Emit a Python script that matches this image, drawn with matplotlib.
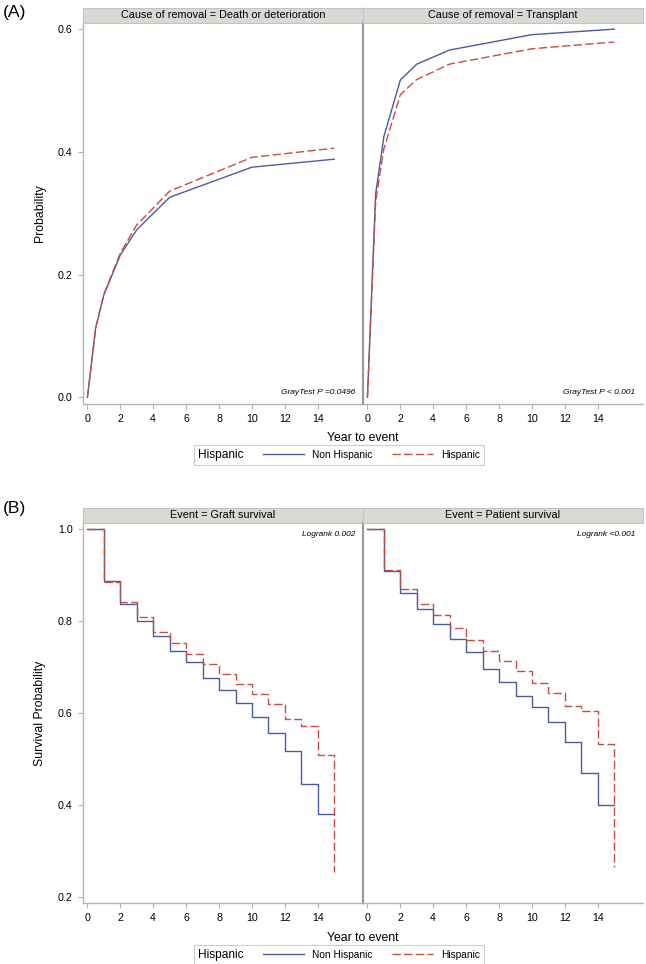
import matplotlib.pyplot as plt
from matplotlib.lines import Line2D
from matplotlib.offsetbox import HPacker

plt.rcParams['font.family'] = ['Liberation Sans', 'DejaVu Sans']

# (A) cumulative incidence
ci_time = [0, 0.5, 1, 2, 3, 5, 10, 15]
death_non_hisp = [0, 0.113, 0.167, 0.232, 0.273, 0.326, 0.375, 0.388]
death_hisp = [0, 0.113, 0.168, 0.235, 0.281, 0.336, 0.391, 0.406]
tx_non_hisp = [0, 0.332, 0.425, 0.517, 0.543, 0.566, 0.591, 0.600]
tx_hisp = [0, 0.319, 0.405, 0.493, 0.518, 0.543, 0.568, 0.579]

# (B) Kaplan-Meier, yearly steps
km_time = list(range(16))
graft_non_hisp = [1.0, 0.886, 0.836, 0.799, 0.767, 0.735, 0.710, 0.677, 0.649,
                  0.622, 0.591, 0.557, 0.517, 0.445, 0.380, 0.380]
graft_hisp = [1.0, 0.884, 0.841, 0.808, 0.777, 0.753, 0.729, 0.706, 0.685,
              0.664, 0.641, 0.620, 0.588, 0.571, 0.509, 0.255]
patient_non_hisp = [1.0, 0.909, 0.860, 0.825, 0.793, 0.760, 0.732, 0.696, 0.667,
                    0.638, 0.612, 0.580, 0.536, 0.469, 0.400, 0.400]
patient_hisp = [1.0, 0.910, 0.870, 0.837, 0.812, 0.785, 0.759, 0.735, 0.714,
                0.691, 0.666, 0.643, 0.615, 0.604, 0.532, 0.266]

titles_a = ['Cause of removal = Death or deterioration', 'Cause of removal = Transplant']
titles_b = ['Event = Graft survival', 'Event = Patient survival']
notes_a = ['GrayTest P =0.0496', 'GrayTest P < 0.001']
notes_b = ['Logrank 0.002', 'Logrank <0.001']
group_labels = ['Non Hispanic', 'Hispanic']

blue = '#4a5aa8'
red = '#cc4b40'
grey = '#b4b4b4'
dash = (6, 2.4)

W, H = 646, 964
fig = plt.figure(figsize=(W / 100, H / 100), dpi=100)


def box(x0, y0, x1, y1):
    return [x0 / W, 1 - y1 / H, (x1 - x0) / W, (y1 - y0) / H]


def make_panel(x0, x1, y0, y1, title, ylim, yticks, first):
    ax = fig.add_axes(box(x0, y0, x1, y1))
    strip = fig.add_axes(box(x0, y0 - 15, x1, y0))
    strip.set_facecolor('#d9dad4')
    strip.set_xticks([])
    strip.set_yticks([])
    for s in strip.spines.values():
        s.set_color('#c4c4c4')
        s.set_linewidth(0.8)
    strip.text(0.5, 0.5, title, ha='center', va='center', fontsize=7.8,
               transform=strip.transAxes)
    ax.set_xlim(-0.27, 16.75)
    ax.set_ylim(*ylim)
    ax.set_xticks(range(0, 15, 2))
    ax.set_yticks(yticks)
    ax.set_yticklabels(['%.1f' % v for v in yticks])
    for s in ['top', 'right']:
        ax.spines[s].set_visible(False)
    ax.spines['bottom'].set_color(grey)
    ax.spines['bottom'].set_linewidth(1.0)
    if first:
        ax.spines['left'].set_color(grey)
        ax.spines['left'].set_linewidth(1.0)
    else:
        ax.spines['left'].set_color('#9a9a9a')
        ax.spines['left'].set_linewidth(1.6)
        ax.tick_params(axis='y', left=False, labelleft=False)
    ax.tick_params(labelsize=7.7, color=grey, length=3.5, width=0.8, pad=4)
    return ax


def add_legend(ycenter):
    handles = [Line2D([], [], color=blue, lw=1.0),
               Line2D([], [], color=red, lw=1.0, dashes=dash)]
    leg = fig.legend(handles, group_labels, title='Hispanic', ncol=2,
                     loc='center', bbox_to_anchor=(339 / W, 1 - ycenter / H),
                     fontsize=7.3, title_fontsize=8.6, frameon=True,
                     fancybox=False, edgecolor='#cccccc', framealpha=1,
                     borderpad=0.4, handlelength=4.0, handletextpad=0.8,
                     columnspacing=2.0)
    leg.get_frame().set_linewidth(0.8)
    # put the title on the same row as the entries
    lb = leg._legend_box
    title, entries = lb.get_children()
    lb._children = [HPacker(pad=0, sep=14, align='center', children=[title, entries])]
    return leg


# ---- (A)
fig.text(3 / W, 1 - 13 / H, '(A)', fontsize=12.6, va='center')
series_a = [(death_non_hisp, death_hisp), (tx_non_hisp, tx_hisp)]
for i, (x0, x1) in enumerate([(83, 363), (363, 643)]):
    ax = make_panel(x0, x1, 23, 404, titles_a[i], (-0.011, 0.61),
                    [0.0, 0.2, 0.4, 0.6], i == 0)
    nh, h = series_a[i]
    ax.plot(ci_time, nh, color=blue, lw=1.0)
    ax.plot(ci_time, h, color=red, lw=1.0, dashes=dash)
    ax.text(0.972, 0.029, notes_a[i], transform=ax.transAxes, ha='right',
            va='center', fontsize=6.0, style='italic')
fig.text(40 / W, 1 - 213 / H, 'Probability', rotation=90, ha='center',
         va='center', fontsize=8.8)
fig.text(363 / W, 1 - 438 / H, 'Year to event', ha='center', va='center',
         fontsize=8.8)
add_legend(455)

# ---- (B)
fig.text(3 / W, 1 - 508 / H, '(B)', fontsize=12.6, va='center')
series_b = [(graft_non_hisp, graft_hisp), (patient_non_hisp, patient_hisp)]
for i, (x0, x1) in enumerate([(83, 363), (363, 643)]):
    ax = make_panel(x0, x1, 523, 903, titles_b[i], (0.187, 1.013),
                    [0.2, 0.4, 0.6, 0.8, 1.0], i == 0)
    nh, h = series_b[i]
    ax.step(km_time, nh, where='post', color=blue, lw=1.0)
    ax.step(km_time, h, where='post', color=red, lw=1.0, dashes=dash)
    ax.text(0.972, 0.971, notes_b[i], transform=ax.transAxes, ha='right',
            va='center', fontsize=6.0, style='italic')
fig.text(40 / W, 1 - 713 / H, 'Survival Probability', rotation=90,
         ha='center', va='center', fontsize=8.8)
fig.text(363 / W, 1 - 938 / H, 'Year to event', ha='center', va='center',
         fontsize=8.8)
add_legend(955)

fig.savefig('out.png', dpi=100)
